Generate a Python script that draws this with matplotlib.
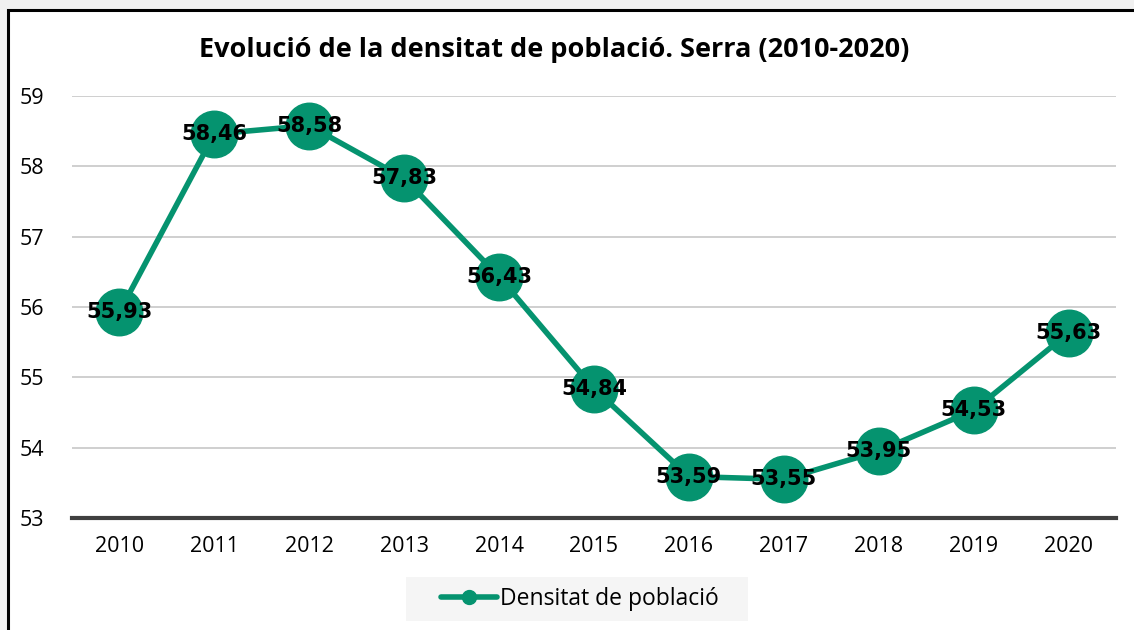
import matplotlib
matplotlib.use("Agg")
import matplotlib.pyplot as plt
from matplotlib.patches import Rectangle
from matplotlib.lines import Line2D

years = ["2010", "2011", "2012", "2013", "2014", "2015", "2016", "2017", "2018", "2019", "2020"]
densitat = [55.93, 58.46, 58.58, 57.83, 56.43, 54.84, 53.59, 53.55, 53.95, 54.53, 55.63]
y_ticks = [53, 54, 55, 56, 57, 58, 59]
title = "Evolució de la densitat de població. Serra (2010-2020)"
series_name = "Densitat de població"

COLOR = "#05936f"
W, H = 1134, 630

plt.rcParams['font.family'] = ['Open Sans', 'DejaVu Sans']

fig = plt.figure(figsize=(W / 100, H / 100), dpi=100)
fig.patch.set_facecolor("#f0f0f0")

# white chart box with black left/top border
fig.add_artist(Rectangle((8 / W, -0.1), 1.2, (H - 10) / H + 0.1, transform=fig.transFigure,
                         facecolor="white", edgecolor="black", linewidth=2.2, zorder=-10))

ax = fig.add_axes([72 / W, 1 - 518 / H, (1116 - 72) / W, (518 - 96) / H])
ax.set_facecolor("white")
x = list(range(len(years)))
ax.plot(x, densitat, color=COLOR, linewidth=4.0, marker="o", markersize=33.5,
        markerfacecolor=COLOR, markeredgecolor=COLOR, zorder=3, clip_on=False,
        solid_capstyle="round")
for xi, v in zip(x, densitat):
    ax.text(xi, v, f"{v:.2f}".replace(".", ","), ha="center", va="center",
            fontsize=15, fontweight="bold", color="black", zorder=5,
            family=["DejaVu Sans"])

ax.set_xlim(-0.5, len(years) - 0.5)
ax.set_ylim(53, 59)
ax.set_yticks(y_ticks)
ax.set_yticklabels([str(t) for t in y_ticks])
ax.set_xticks(x)
ax.set_xticklabels(years)
ax.tick_params(axis="both", length=0, labelsize=15.5, colors="black")
ax.tick_params(axis="y", pad=20)
ax.tick_params(axis="x", pad=13)
ax.grid(axis="y", color="#cccccc", linewidth=1.3, zorder=0)
ax.set_axisbelow(True)
for s in ["top", "right", "left"]:
    ax.spines[s].set_visible(False)
ax.spines["bottom"].set_color("#404040")
ax.spines["bottom"].set_linewidth(3)
ax.spines["bottom"].set_zorder(2)

fig.text(554 / W, 1 - 50 / H, title, ha="center", va="center",
         fontsize=19.5, fontweight="bold", color="black")

# legend background box
fig.add_artist(Rectangle((406 / W, 1 - 621 / H), (748 - 406) / W, (621 - 577) / H,
                         transform=fig.transFigure, facecolor="#f5f5f5",
                         edgecolor="none", zorder=1))

handle = Line2D([], [], color=COLOR, linewidth=4.0, marker="o", markersize=10,
                markerfacecolor=COLOR, markeredgecolor=COLOR, solid_capstyle="round")
leg = fig.legend([handle], [series_name], loc="center", bbox_to_anchor=(580 / W, 1 - 599 / H),
                 frameon=False, fontsize=16.5, handlelength=2.45, handletextpad=0.15,
                 borderpad=0, borderaxespad=0)
leg.set_zorder(2)

fig.savefig("out.png", dpi=100, facecolor=fig.get_facecolor())
